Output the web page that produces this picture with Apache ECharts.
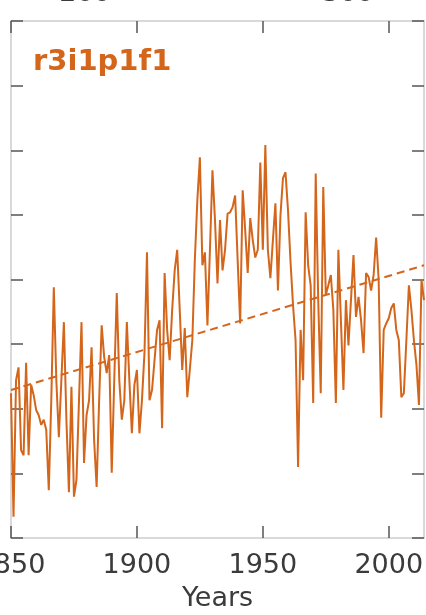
<!DOCTYPE html>
<html>
<head>
<meta charset="utf-8">
<style>
  html, body { margin: 0; padding: 0; background: #ffffff; }
  #chart { width: 426px; height: 615px; }
</style>
<script src="https://cdn.jsdelivr.net/npm/echarts@6/dist/echarts.min.js"></script>
</head>
<body>
<div id="chart"></div>
<script>
// Ensemble member shown in this panel
const memberName = 'r3i1p1f1';

// Annual series, one value per year starting at startYear
const startYear = 1850;
const anomaly = [
  // 1850s
  -1.76, -3.67, -1.56, -1.36, -2.64, -2.72, -1.29, -2.72, -1.63, -1.79,
  // 1860s
  -2.02, -2.10, -2.25, -2.17, -2.33, -3.26, -1.87, -0.12, -1.56, -2.44,
  // 1870s
  -1.56, -0.66, -2.17, -3.29, -1.66, -3.36, -3.10, -1.87, -0.66, -2.84,
  // 1880s
  -2.10, -1.87, -1.05, -2.48, -3.21, -1.87, -0.71, -1.20, -1.45, -1.17,
  // 1890s
  -2.99, -1.56, -0.21, -1.56, -2.17, -1.87, -0.66, -1.56, -2.38, -1.63,
  // 1900s
  -1.40, -2.38, -1.87, -1.14, 0.42, -1.87, -1.71, -1.25, -0.78, -0.63,
  // 1910s
  -2.30, 0.10, -0.78, -1.25, -0.47, 0.14, 0.46, -0.47, -1.40, -0.75,
  // 1920s
  -1.82, -1.40, -0.94, 0.30, 1.23, 1.89, 0.22, 0.42, -0.71, 0.46,
  // 1930s
  1.69, 0.92, -0.06, 0.92, 0.14, 0.46, 1.02, 1.04, 1.12, 1.30,
  // 1940s
  0.30, -0.68, 1.38, 0.76, 0.10, 0.95, 0.61, 0.34, 0.46, 1.81,
  // 1950s
  0.46, 2.08, 0.46, 0.02, 0.61, 1.18, -0.17, 0.99, 1.57, 1.66,
  // 1960s
  1.07, 0.27, -0.40, -0.94, -2.90, -0.78, -1.56, 1.04, 0.22, -0.09,
  // 1970s
  -1.91, 1.64, -0.32, -1.76, 1.43, -0.24, -0.09, 0.07, -0.47, -1.91,
  // 1980s
  0.46, -0.63, -1.71, -0.32, -1.02, -0.32, 0.38, -0.58, -0.27, -0.63,
  // 1990s
  -1.14, 0.10, 0.04, -0.17, 0.07, 0.65, -0.01, -2.14, -0.78, -0.68,
  // 2000s
  -0.60, -0.44, -0.37, -0.78, -0.94, -1.82, -1.76, -0.94, -0.09, -0.47,
  // 2010s
  -0.94, -1.32, -1.94, -0.01, -0.32
];

// Linear trend end points [year, value]
const trendStart = [1850, -1.71];
const trendEnd = [2014, 0.22];

// Axis ranges and tick labels
const xMin = 1850, xMax = 2014;
const xTickYears = [1850, 1900, 1950, 2000];
const yMin = -4, yMax = 4, yStep = 1;

// Labels of the neighbouring panel's axis, partly visible at the top edge
const upperAxisLabels = ['200', '300'];

const lineColor = '#d4661c';
const frameColor = '#cdcdcd';
const tickColor = '#555555';
const textColor = '#3b3b3b';
const fontFamily = 'DejaVu Sans';

const seriesData = anomaly.map((v, i) => [startYear + i, v]);

const frameLine = { show: true, onZero: false, lineStyle: { color: frameColor, width: 1.5 } };
const innerTick = { show: true, inside: true, length: 12, lineStyle: { color: tickColor, width: 1.5 } };

const chart = echarts.init(document.getElementById('chart'), null, { renderer: 'canvas' });

chart.setOption({
  animation: false,
  backgroundColor: '#ffffff',
  grid: {
    left: 11, right: 2, top: 21, bottom: 77,
    containLabel: false, outerBoundsMode: 'none'
  },
  xAxis: [
    {
      type: 'value', position: 'bottom', min: xMin, max: xMax,
      axisLine: frameLine,
      axisTick: Object.assign({}, innerTick, { customValues: xTickYears }),
      axisLabel: {
        customValues: xTickYears, margin: 14,
        formatter: (v) => String(v),
        fontSize: 27, color: textColor, fontFamily: fontFamily
      },
      splitLine: { show: false },
      name: 'Years', nameLocation: 'middle', nameGap: 47,
      nameTextStyle: { fontSize: 27, color: textColor, fontFamily: fontFamily }
    },
    {
      type: 'value', position: 'top', min: xMin, max: xMax,
      axisLine: frameLine,
      axisTick: Object.assign({}, innerTick, { customValues: xTickYears }),
      axisLabel: { show: false },
      splitLine: { show: false }
    }
  ],
  yAxis: [
    {
      type: 'value', position: 'left', min: yMin, max: yMax, interval: yStep,
      axisLine: frameLine, axisTick: innerTick,
      axisLabel: { show: false }, splitLine: { show: false }
    },
    {
      type: 'value', position: 'right', min: yMin, max: yMax, interval: yStep,
      axisLine: frameLine, axisTick: innerTick,
      axisLabel: { show: false }, splitLine: { show: false }
    }
  ],
  series: [
    {
      name: memberName, type: 'line', xAxisIndex: 0, yAxisIndex: 0,
      data: seriesData, showSymbol: false, symbol: 'none',
      lineStyle: { color: lineColor, width: 2 },
      clip: true, z: 3
    },
    {
      name: 'trend', type: 'line', xAxisIndex: 0, yAxisIndex: 0,
      data: [trendStart, trendEnd], showSymbol: false, symbol: 'none',
      lineStyle: { color: lineColor, width: 2, type: [8, 5] },
      clip: true, z: 4
    }
  ],
  graphic: [
    {
      type: 'text', left: 33, top: 48,
      style: {
        text: memberName, fill: lineColor,
        font: 'bold 29px "DejaVu Sans"'
      }
    },
    {
      type: 'text', x: 85, y: -6,
      style: {
        text: upperAxisLabels[0], fill: textColor,
        font: '27px "DejaVu Sans"', textAlign: 'center', textVerticalAlign: 'middle'
      }
    },
    {
      type: 'text', x: 348, y: -6,
      style: {
        text: upperAxisLabels[1], fill: textColor,
        font: '27px "DejaVu Sans"', textAlign: 'center', textVerticalAlign: 'middle'
      }
    }
  ]
});
</script>
</body>
</html>
